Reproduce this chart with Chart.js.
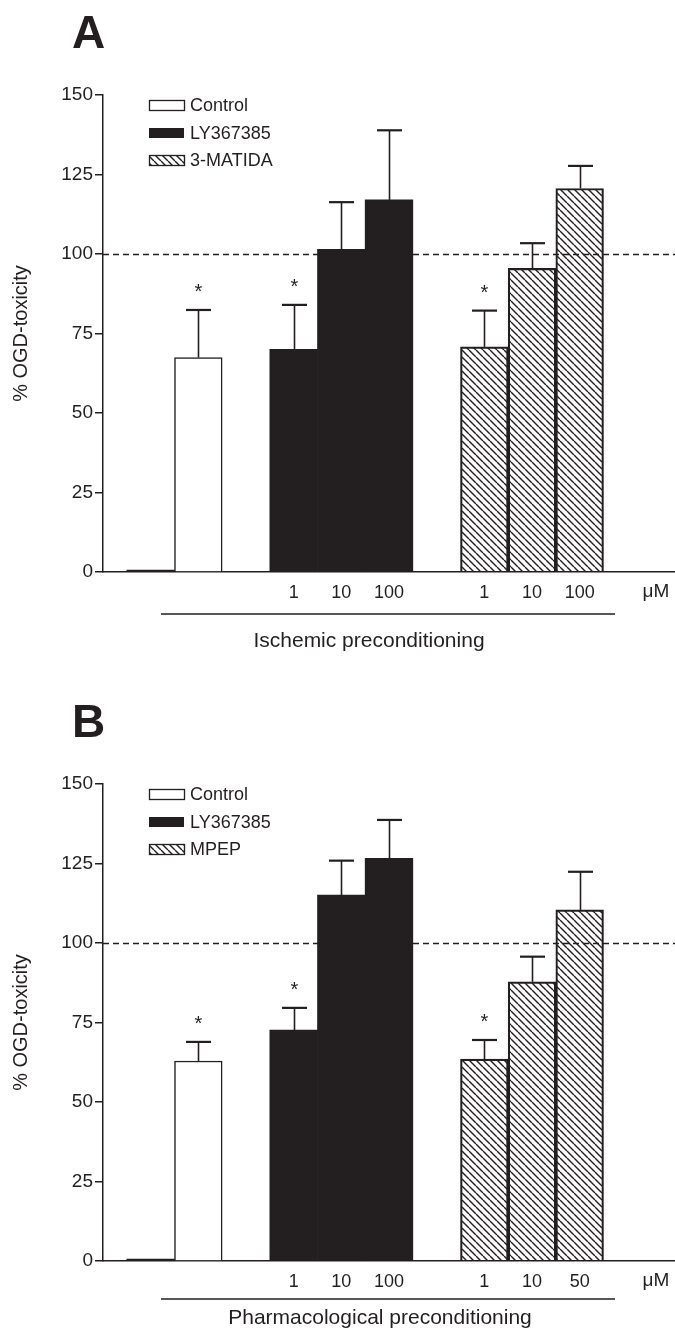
<!DOCTYPE html>
<html>
<head>
<meta charset="utf-8">
<script src="https://cdn.jsdelivr.net/npm/chart.js@4.4.0/dist/chart.umd.min.js"></script>
<style>
  html, body { margin: 0; padding: 0; background: #fff; }
  canvas { display: block; }
</style>
</head>
<body>
<canvas id="chartA" width="675" height="689"></canvas>
<canvas id="chartB" width="675" height="642"></canvas>
<script>
// ---- data ----
// 13 slots on the x axis; bars sit in slots 1, 2, 4-6 and 8-10
const slotsA = ['', '', '', '', '1', '10', '100', '', '1', '10', '100', '', ''];
const slotsB = ['', '', '', '', '1', '10', '100', '', '1', '10', '50', '', ''];

const baseSlot = [1];
const controlSlot = [2];
const lySlots = [4, 5, 6];
const antagSlots = [8, 9, 10];

const seriesNames = ['Control', 'LY367385'];
const antagNameA = '3-MATIDA';
const antagNameB = 'MPEP';

// panel A (ischemic preconditioning)
const baseA = [0];
const controlA = [67.4];
const controlSemA = [15.0];
const lyA = [70.0, 101.5, 117.0];
const lySemA = [14.0, 14.8, 21.9];
const matidaA = [70.8, 95.5, 120.6];
const matidaSemA = [11.4, 7.9, 7.1];

// panel B (pharmacological preconditioning)
const baseB = [0];
const controlB = [62.9];
const controlSemB = [6.0];
const lyB = [72.6, 115.1, 126.6];
const lySemB = [7.0, 10.8, 12.1];
const mpepB = [63.5, 87.8, 110.4];
const mpepSemB = [6.0, 7.9, 12.0];

// significance marks (*)
const starsControl = [true];
const starsDrug = [true, false, false];

const yMin = 0, yMax = 150, yStep = 25;
const refLevel = 100;

const dark = '#231f20';
const FONT = "'Liberation Sans', Arial, Helvetica, sans-serif";

function spread(slots, values) {
  const out = new Array(slotsA.length).fill(null);
  slots.forEach((s, i) => { out[s] = values[i]; });
  return out;
}

function hatch(ctx) {
  const s = 7;
  const c = document.createElement('canvas');
  c.width = s; c.height = s;
  const g = c.getContext('2d');
  g.strokeStyle = dark;
  g.lineWidth = 1.4;
  g.beginPath();
  [-s, 0, s].forEach(k => { g.moveTo(k, 0); g.lineTo(k + s, s); });
  g.stroke();
  return ctx.createPattern(c, 'repeat');
}

// reference line, error bars, stars, legend and labels
const decor = {
  id: 'decor',
  afterDatasetsDraw(chart) {
    const { ctx, chartArea: ca, scales: { x, y } } = chart;
    ctx.save();
    ctx.strokeStyle = dark;
    ctx.lineWidth = 1.3;
    ctx.setLineDash([6, 4]);
    const yr = Math.round(y.getPixelForValue(refLevel)) + 0.5;
    ctx.beginPath(); ctx.moveTo(ca.left, yr); ctx.lineTo(ca.right, yr); ctx.stroke();
    ctx.setLineDash([]);

    chart.data.datasets.forEach(ds => {
      if (!ds.sem) return;
      ds.data.forEach((v, i) => {
        if (v == null) return;
        const px = Math.round(x.getPixelForValue(i)) + 0.5;
        const y0 = y.getPixelForValue(v);
        const y1 = y.getPixelForValue(v + ds.sem[i]);
        ctx.lineWidth = 1.6;
        ctx.beginPath(); ctx.moveTo(px, y0); ctx.lineTo(px, y1); ctx.stroke();
        ctx.lineWidth = 2.2;
        ctx.beginPath(); ctx.moveTo(px - 12.5, y1); ctx.lineTo(px + 12.5, y1); ctx.stroke();
        if (ds.stars && ds.stars[i]) {
          ctx.fillStyle = dark;
          ctx.font = '20px ' + FONT;
          ctx.textAlign = 'center';
          ctx.textBaseline = 'alphabetic';
          ctx.fillText('*', px, y1 - 12);
        }
      });
    });
    ctx.restore();
  },
  afterDraw(chart, args, o) {
    const { ctx } = chart;
    ctx.save();
    ctx.fillStyle = dark;
    ctx.strokeStyle = dark;

    // panel letter
    ctx.font = 'bold 46px ' + FONT;
    ctx.textAlign = 'left';
    ctx.textBaseline = 'alphabetic';
    ctx.fillText(o.letter, 72, 48);

    // legend
    const items = chart.data.datasets.filter(ds => ds.inLegend);
    items.forEach((ds, k) => {
      const cy = 105.5 + k * 27.5;
      ctx.fillStyle = ds.backgroundColor;
      ctx.fillRect(149, cy - 5, 35, 10);
      if (ds.borderWidth) {
        ctx.lineWidth = 1.3;
        ctx.strokeRect(149.5, cy - 5, 35, 10);
      }
      ctx.fillStyle = dark;
      ctx.font = '18px ' + FONT;
      ctx.textBaseline = 'middle';
      ctx.fillText(ds.label, 190, cy + 1);
    });

    // unit
    ctx.font = '19px ' + FONT;
    ctx.textAlign = 'center';
    ctx.textBaseline = 'middle';
    ctx.fillText('μM', 656, 592);

    // bracket line and caption
    ctx.lineWidth = 1.5;
    ctx.beginPath(); ctx.moveTo(161, o.lineY); ctx.lineTo(615, o.lineY); ctx.stroke();
    ctx.font = '21px ' + FONT;
    ctx.fillText(o.caption, o.captionX, o.captionY);
    ctx.restore();
  }
};

function makeChart(id, slots, xHeight, d, decorOpts) {
  const canvas = document.getElementById(id);
  const ctx = canvas.getContext('2d');
  const pattern = hatch(ctx);
  return new Chart(canvas, {
    type: 'bar',
    data: {
      labels: slots,
      datasets: [
        {
          label: 'baseline', inLegend: false,
          data: spread(baseSlot, d.base),
          backgroundColor: dark, borderWidth: 0, minBarLength: 2
        },
        {
          label: seriesNames[0], inLegend: true,
          data: spread(controlSlot, d.control),
          sem: spread(controlSlot, d.controlSem),
          stars: spread(controlSlot, starsControl),
          backgroundColor: '#ffffff', borderColor: dark, borderWidth: 1.5
        },
        {
          label: seriesNames[1], inLegend: true,
          data: spread(lySlots, d.ly),
          sem: spread(lySlots, d.lySem),
          stars: spread(lySlots, starsDrug),
          backgroundColor: dark, borderWidth: 0
        },
        {
          label: d.antagName, inLegend: true,
          data: spread(antagSlots, d.antag),
          sem: spread(antagSlots, d.antagSem),
          stars: spread(antagSlots, starsDrug),
          backgroundColor: pattern, borderColor: dark, borderWidth: 1.5
        }
      ]
    },
    options: {
      responsive: false,
      animation: false,
      devicePixelRatio: 1,
      layout: { padding: { top: 95, left: 0, right: 0, bottom: 0 } },
      datasets: { bar: { grouped: false, categoryPercentage: 1, barPercentage: 1 } },
      plugins: {
        legend: { display: false },
        tooltip: { enabled: false },
        decor: decorOpts
      },
      scales: {
        x: {
          type: 'category',
          offset: false,
          grid: { display: false, drawTicks: false },
          border: { display: true, color: dark, width: 1.5 },
          ticks: {
            autoSkip: false, maxRotation: 0, color: dark, padding: 10,
            font: { family: FONT, size: 18 }
          },
          afterFit: s => { s.height = xHeight; s.paddingLeft = 0; s.paddingRight = 0; }
        },
        y: {
          min: yMin, max: yMax,
          ticks: { stepSize: yStep, color: dark, padding: 2, font: { family: FONT, size: 19 } },
          grid: { drawOnChartArea: false, drawTicks: true, tickLength: 8, color: dark, lineWidth: 1.5 },
          border: { display: true, color: dark, width: 1.5 },
          title: {
            display: true, text: '% OGD-toxicity', color: dark,
            font: { family: FONT, size: 20 }, padding: { top: 9, bottom: 0 }
          },
          afterFit: s => { s.width = 103; }
        }
      }
    },
    plugins: [decor]
  });
}

makeChart('chartA', slotsA, 117, {
  base: baseA, control: controlA, controlSem: controlSemA,
  ly: lyA, lySem: lySemA, antag: matidaA, antagSem: matidaSemA, antagName: antagNameA
}, { letter: 'A', caption: 'Ischemic preconditioning', captionX: 369, captionY: 641, lineY: 614 });

makeChart('chartB', slotsB, 70, {
  base: baseB, control: controlB, controlSem: controlSemB,
  ly: lyB, lySem: lySemB, antag: mpepB, antagSem: mpepSemB, antagName: antagNameB
}, { letter: 'B', caption: 'Pharmacological preconditioning', captionX: 380, captionY: 629, lineY: 610 });
</script>
</body>
</html>
